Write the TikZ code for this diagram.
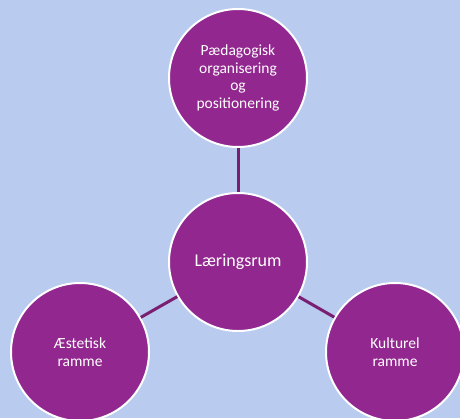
\documentclass[tikz,border=0pt]{standalone}
\usepackage{fontspec}
\setmainfont{Carlito}
\definecolor{bgblue}{HTML}{B9CBEE}
\definecolor{circpurple}{HTML}{92278F}
\definecolor{linkpurple}{HTML}{7A1E72}
\begin{document}
\begin{tikzpicture}[x=1pt,y=-1pt,
  bubble/.style={circle,fill=circpurple,draw=white,line width=2pt,minimum size=138pt,inner sep=0pt,
    text=white,align=center,font=\fontsize{15.5}{17.6}\selectfont},
  link/.style={draw=linkpurple,line width=3pt}]
\fill[bgblue] (0,0) rectangle (460,418);
\useasboundingbox (0,0) rectangle (460,418);
\node[bubble] (top) at (238,78) {Pædagogisk\\organisering\\og\\positionering};
\node[bubble,font=\fontsize{18}{20}\selectfont] (mid) at (238,262) {Læringsrum};
\node[bubble] (left) at (80,352) {Æstetisk\\ramme};
\node[bubble] (right) at (395,352) {Kulturel\\ramme};
\draw[link] (mid) -- (top);
\draw[link] (mid) -- (left);
\draw[link] (mid) -- (right);
\end{tikzpicture}
\end{document}
